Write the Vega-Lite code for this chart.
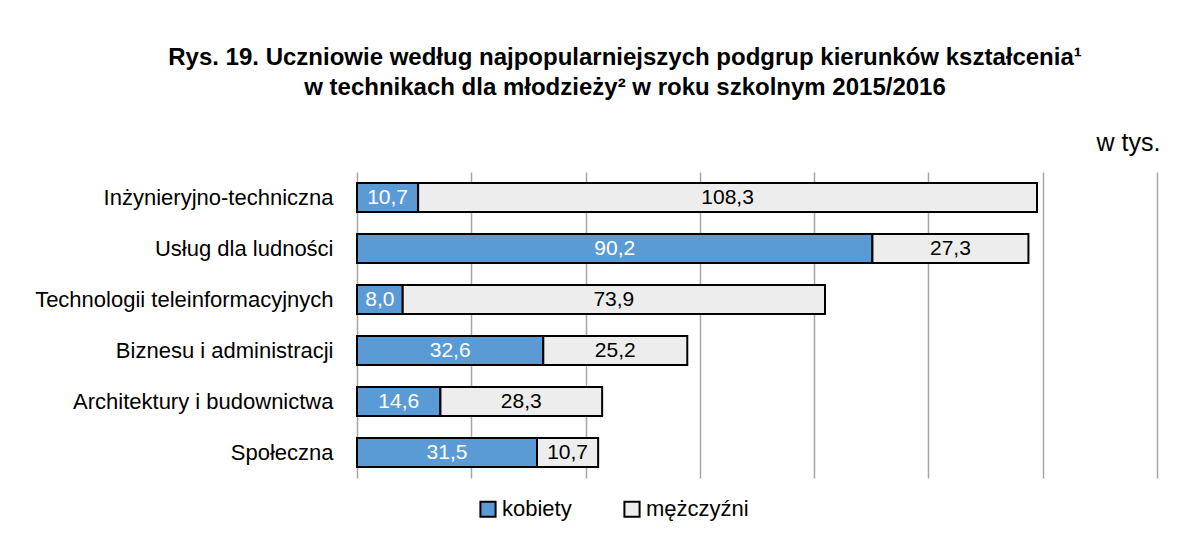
{
  "$schema": "https://vega.github.io/schema/vega-lite/v6.json",
  "autosize": {"type": "none"},
  "width": 800,
  "height": 306,
  "padding": {"left": 357, "top": 172, "right": 37, "bottom": 82},
  "background": "white",
  "title": {
    "text": ["Rys. 19. Uczniowie według najpopularniejszych podgrup kierunków kształcenia¹", "w technikach dla młodzieży² w roku szkolnym 2015/2016"],
    "font": "Liberation Sans, Arial, sans-serif",
    "fontSize": 24,
    "fontWeight": "bold",
    "color": "black",
    "anchor": "middle",
    "dx": -132,
    "offset": 30,
    "lineHeight": 30
  },
  "config": {
    "locale": {"number": {"decimal": ",", "thousands": " ", "grouping": [3], "currency": ["", " zł"]}},
    "view": {"stroke": null},
    "font": "Liberation Sans, Arial, sans-serif"
  },
  "data": {
    "values": [
      {"kierunek": "Inżynieryjno-techniczna", "plec": "kobiety", "wartosc": 10.7},
      {"kierunek": "Inżynieryjno-techniczna", "plec": "mężczyźni", "wartosc": 108.3},
      {"kierunek": "Usług dla ludności", "plec": "kobiety", "wartosc": 90.2},
      {"kierunek": "Usług dla ludności", "plec": "mężczyźni", "wartosc": 27.3},
      {"kierunek": "Technologii teleinformacyjnych", "plec": "kobiety", "wartosc": 8.0},
      {"kierunek": "Technologii teleinformacyjnych", "plec": "mężczyźni", "wartosc": 73.9},
      {"kierunek": "Biznesu i administracji", "plec": "kobiety", "wartosc": 32.6},
      {"kierunek": "Biznesu i administracji", "plec": "mężczyźni", "wartosc": 25.2},
      {"kierunek": "Architektury i budownictwa", "plec": "kobiety", "wartosc": 14.6},
      {"kierunek": "Architektury i budownictwa", "plec": "mężczyźni", "wartosc": 28.3},
      {"kierunek": "Społeczna", "plec": "kobiety", "wartosc": 31.5},
      {"kierunek": "Społeczna", "plec": "mężczyźni", "wartosc": 10.7}
    ]
  },
  "encoding": {
    "y": {
      "field": "kierunek",
      "type": "nominal",
      "sort": null,
      "title": null,
      "scale": {"paddingInner": 0.43, "paddingOuter": 0.215},
      "axis": {
        "domain": false,
        "ticks": false,
        "labelFontSize": 22,
        "labelColor": "black",
        "labelPadding": 24,
        "labelLimit": 400
      }
    },
    "x": {
      "field": "wartosc",
      "type": "quantitative",
      "stack": "zero",
      "scale": {"domain": [0, 140], "nice": false},
      "axis": {
        "orient": "top",
        "values": [0, 20, 40, 60, 80, 100, 120, 140],
        "grid": true,
        "gridColor": "#a6a6a6",
        "gridWidth": 1.5,
        "labels": false,
        "ticks": false,
        "domain": false,
        "title": "w tys.",
        "titleFontSize": 25,
        "titleFontWeight": "normal",
        "titleColor": "black",
        "titleAnchor": "end",
        "titleAlign": "right",
        "titleBaseline": "middle",
        "titleX": 803,
        "titleY": -30
      }
    },
    "order": {"field": "plec", "sort": "ascending"}
  },
  "layer": [
    {
      "mark": {"type": "bar", "stroke": "black", "strokeWidth": 2},
      "encoding": {
        "color": {
          "field": "plec",
          "type": "nominal",
          "scale": {"domain": ["kobiety", "mężczyźni"], "range": ["#5b9bd5", "#ededed"]},
          "legend": {
            "title": null,
            "orient": "none",
            "direction": "horizontal",
            "legendX": 120,
            "legendY": 326,
            "symbolType": "square",
            "symbolSize": 230,
            "symbolStrokeColor": "black",
            "symbolStrokeWidth": 2,
            "labelFontSize": 22,
            "labelColor": "black",
            "labelOffset": 3,
            "columnPadding": 48
          }
        }
      }
    },
    {
      "mark": {"type": "text", "fontSize": 21, "baseline": "middle", "align": "center"},
      "encoding": {
        "x": {"field": "wartosc", "type": "quantitative", "stack": "zero", "bandPosition": 0.5},
        "text": {"field": "wartosc", "type": "quantitative", "format": ".1f"},
        "detail": {"field": "plec", "type": "nominal"},
        "color": {
          "condition": {"test": "datum.plec === 'kobiety'", "value": "white"},
          "value": "black"
        }
      }
    }
  ]
}
